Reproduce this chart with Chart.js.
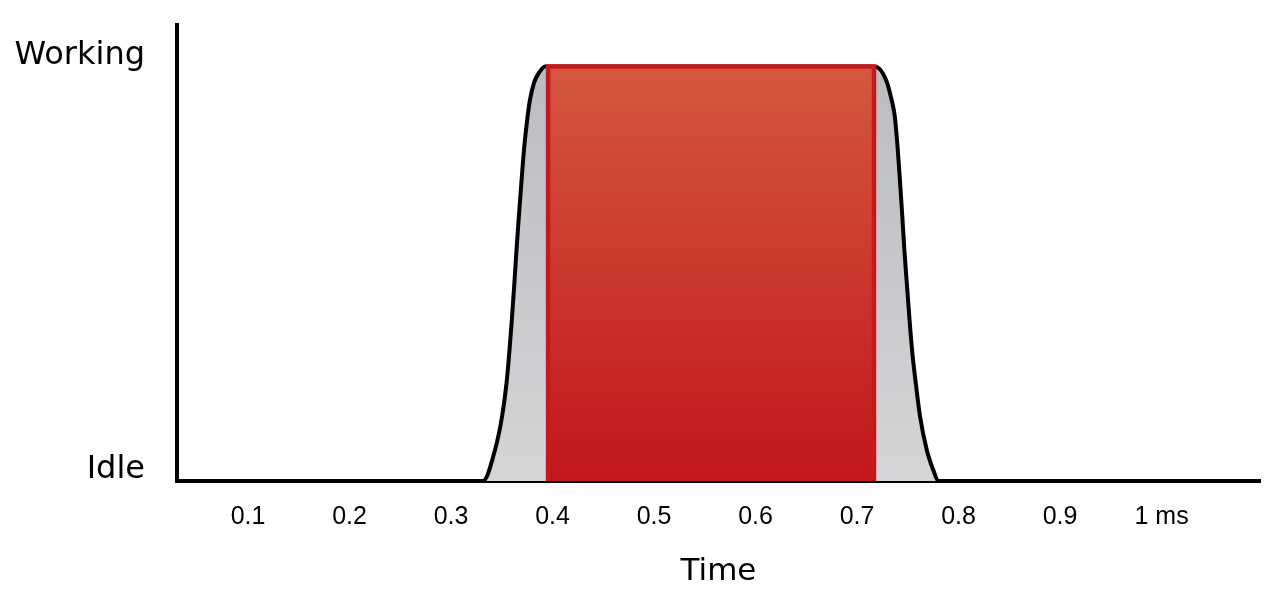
<!DOCTYPE html>
<html>
<head>
<meta charset="utf-8">
<script src="https://cdn.jsdelivr.net/npm/chart.js@4"></script>
<style>
  html, body { margin: 0; padding: 0; background: #fff; }
  #wrap { width: 1280px; height: 614px; position: relative; }
</style>
</head>
<body>
<div id="wrap"><canvas id="loadChart"></canvas></div>
<script>
// Data (x in ms, y: 0 = Idle, 1 = Working)
const curveX = [0.03, 0.3315, 0.3433, 0.3502, 0.3547, 0.3576, 0.3601, 0.3624, 0.3645, 0.3668, 0.3693, 0.3719, 0.3754, 0.3778, 0.3818, 0.3867, 0.3926,
                0.56, 0.7177, 0.7285, 0.7338, 0.7372, 0.7401, 0.7424, 0.7446, 0.7466, 0.7490, 0.7515, 0.7542, 0.7578, 0.7621, 0.7687, 0.7752, 0.7801, 1.097];
const curveY = [0, 0, 0.075, 0.155, 0.237, 0.316, 0.396, 0.478, 0.558, 0.638, 0.720, 0.800, 0.879, 0.920, 0.961, 0.985, 1,
                1, 1, 0.968, 0.922, 0.879, 0.800, 0.720, 0.638, 0.558, 0.478, 0.396, 0.316, 0.237, 0.155, 0.075, 0.026, 0, 0];
const workX = [0.3956, 0.3956, 0.7167, 0.7167];
const workY = [0, 1, 1, 0];
const xTickValues = [0.1, 0.2, 0.3, 0.4, 0.5, 0.6, 0.7, 0.8, 0.9, 1.0];
const xTickLabels = ['0.1', '0.2', '0.3', '0.4', '0.5', '0.6', '0.7', '0.8', '0.9', '1 ms'];
const yTickValues = [0, 1];
const yTickLabels = ['Idle', 'Working'];

function toPoints(xs, ys) {
    return xs.map((x, i) => ({ x: x, y: ys[i] }));
}

// vertical gradient between the Working level and the Idle level
function vGradient(context, topColor, bottomColor) {
    const chart = context.chart;
    if (!chart.chartArea) return bottomColor;
    const y = chart.scales.y;
    const g = chart.ctx.createLinearGradient(0, y.getPixelForValue(1), 0, y.getPixelForValue(0));
    g.addColorStop(0, topColor);
    g.addColorStop(1, bottomColor);
    return g;
}

const ctx = document.getElementById('loadChart').getContext('2d');
const loadChart = new Chart(ctx, {
    type: 'line',
    data: {
        datasets: [{
            label: 'Load',
            data: toPoints(curveX, curveY),
            borderColor: '#000000',
            borderWidth: 4,
            backgroundColor: c => vGradient(c, '#bbbcc0', '#d4d5d7'),
            fill: 'origin',
            cubicInterpolationMode: 'monotone',
            pointRadius: 0,
            order: 2
        }, {
            label: 'Working',
            data: toPoints(workX, workY),
            borderColor: '#c8181e',
            borderWidth: 4.5,
            backgroundColor: c => vGradient(c, '#d4583f', '#c2161a'),
            fill: 'origin',
            tension: 0,
            pointRadius: 0,
            order: 1
        }]
    },
    options: {
        responsive: true,
        maintainAspectRatio: false,
        animation: false,
        layout: {
            padding: { top: 25, right: 20, bottom: 0, left: 0 }
        },
        plugins: {
            legend: { display: false },
            tooltip: { enabled: false }
        },
        scales: {
            x: {
                type: 'linear',
                min: 0.03,
                max: 1.097,
                z: 1,
                grid: { display: false, drawTicks: false },
                border: { display: true, color: '#000000', width: 4 },
                afterBuildTicks: scale => {
                    scale.ticks = xTickValues.map(v => ({ value: v }));
                },
                afterFit: scale => {
                    scale.height = 133;
                    scale.paddingLeft = 0;
                    scale.paddingRight = 0;
                },
                ticks: {
                    autoSkip: false,
                    maxRotation: 0,
                    padding: 21,
                    color: '#000000',
                    font: { family: 'Liberation Sans', size: 25 },
                    callback: value => xTickLabels[xTickValues.indexOf(value)]
                },
                title: {
                    display: true,
                    text: 'Time',
                    color: '#000000',
                    font: { family: 'DejaVu Sans', size: 31 },
                    padding: { top: 4, bottom: 23 }
                }
            },
            y: {
                type: 'linear',
                min: 0,
                max: 1.1,
                z: 1,
                grid: { display: false, drawTicks: false },
                border: { display: true, color: '#000000', width: 4 },
                afterBuildTicks: scale => {
                    scale.ticks = yTickValues.map(v => ({ value: v }));
                },
                afterFit: scale => {
                    scale.width = 177;
                    scale.paddingTop = 0;
                    scale.paddingBottom = 0;
                },
                ticks: {
                    padding: 32,
                    labelOffset: -11,
                    color: '#000000',
                    font: { family: 'DejaVu Sans', size: 32 },
                    callback: value => yTickLabels[yTickValues.indexOf(value)]
                }
            }
        }
    }
});
</script>
</body>
</html>
